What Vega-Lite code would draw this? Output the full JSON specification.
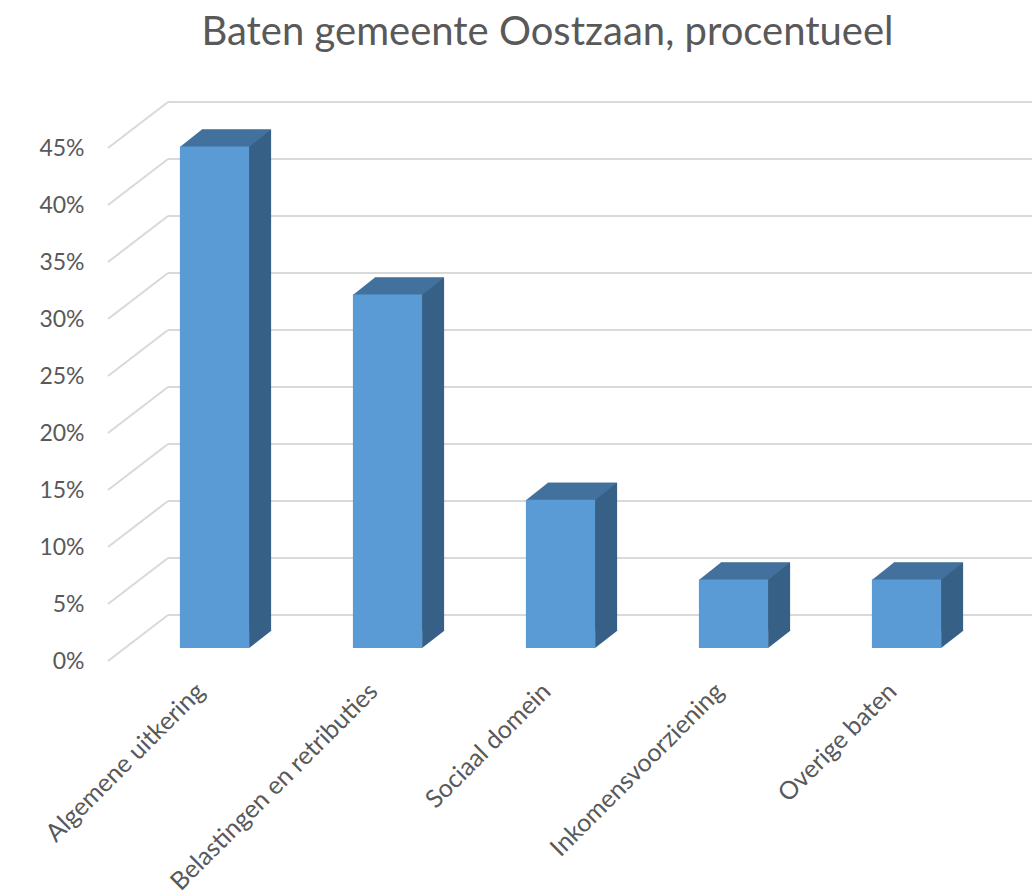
{
  "$schema": "https://vega.github.io/schema/vega-lite/v6.json",
  "autosize": "none",
  "width": 865,
  "height": 513,
  "padding": {"left": 108, "top": 148, "right": 59, "bottom": 234},
  "background": "white",
  "config": {"view": {"stroke": null}, "font": "Lato"},
  "title": {"text": "Baten gemeente Oostzaan, procentueel", "font": "Lato", "fontSize": 40, "fontWeight": "normal", "color": "#595959", "anchor": "middle", "offset": 48, "dx": 7},
  "datasets": {
    "baten": [
      {"categorie": "Algemene uitkering", "aandeel": 0.44},
      {"categorie": "Belastingen en retributies", "aandeel": 0.31},
      {"categorie": "Sociaal domein", "aandeel": 0.13},
      {"categorie": "Inkomensvoorziening", "aandeel": 0.06},
      {"categorie": "Overige baten", "aandeel": 0.06}
    ],
    "ticks": [
      {"v": 0}, {"v": 0.05}, {"v": 0.1}, {"v": 0.15}, {"v": 0.2},
      {"v": 0.25}, {"v": 0.3}, {"v": 0.35}, {"v": 0.4}, {"v": 0.45}
    ]
  },
  "resolve": {"scale": {"x": "independent"}, "axis": {"x": "independent"}},
  "layer": [
    {
      "data": {"name": "ticks"},
      "layer": [
        {
          "mark": {"type": "rule", "color": "#d9d9d9", "strokeWidth": 2, "x2Offset": 60, "y2Offset": -46},
          "encoding": {
            "x": {"datum": 0, "type": "quantitative", "scale": {"domain": [0, 1]}, "axis": null},
            "x2": {"datum": 0},
            "y": {
              "field": "v", "type": "quantitative", "scale": {"domain": [0, 0.45], "nice": false},
              "axis": {"title": null, "domain": false, "ticks": false, "grid": false, "values": [0, 0.05, 0.1, 0.15, 0.2, 0.25, 0.3, 0.35, 0.4, 0.45], "format": ".0%", "labelPadding": 24, "labelFont": "Lato", "labelFontSize": 23, "labelColor": "#595959"}
            },
            "y2": {"field": "v"}
          }
        },
        {
          "mark": {"type": "rule", "color": "#d9d9d9", "strokeWidth": 2, "xOffset": 60, "x2Offset": 60, "yOffset": -46, "y2Offset": -46},
          "encoding": {
            "x": {"datum": 0, "type": "quantitative", "scale": {"domain": [0, 1]}, "axis": null},
            "x2": {"datum": 1},
            "y": {"field": "v", "type": "quantitative"},
            "y2": {"field": "v"}
          }
        }
      ]
    },
    {
      "data": {"name": "baten"},
      "encoding": {
        "x": {
          "field": "categorie", "type": "nominal", "sort": null,
          "scale": {"paddingInner": 0.6, "paddingOuter": 0.3},
          "axis": {"title": null, "domain": false, "ticks": false, "labelAngle": -45, "labelAlign": "right", "labelBaseline": "middle", "labelPadding": 26, "labelOffset": 6, "labelFont": "Lato", "labelFontSize": 25, "labelColor": "#595959", "labelLimit": 400}
        },
        "y": {"field": "aandeel", "type": "quantitative"}
      },
      "layer": [
        {
          "mark": {"type": "bar", "color": "#376087", "xOffset": 42, "x2Offset": 42, "yOffset": -30, "y2Offset": -30}
        },
        {
          "mark": {"type": "point", "filled": true, "opacity": 1, "strokeWidth": 0, "size": 4, "color": "#376087", "shape": "M 54.6 -30.5 L 54.6 -13 L 77.1 -30.5 Z"},
          "encoding": {"y": {"datum": 0, "type": "quantitative"}}
        },
        {
          "mark": {"type": "point", "filled": true, "opacity": 1, "strokeWidth": 0, "size": 4, "color": "#41719c", "shape": "M -14.6 -12.5 L 54.6 -12.5 L 76.6 -30 L 7.4 -30 Z"}
        },
        {
          "mark": {"type": "bar", "color": "#5b9bd5", "xOffset": 20, "x2Offset": 20, "yOffset": -13, "y2Offset": -13}
        }
      ]
    }
  ]
}
